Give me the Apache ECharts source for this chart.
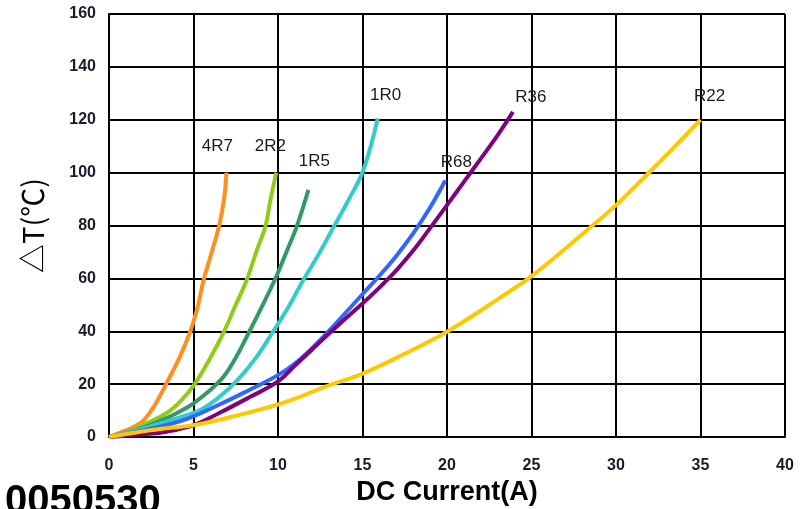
<!DOCTYPE html>
<html>
<head>
<meta charset="utf-8">
<script src="https://cdn.jsdelivr.net/npm/echarts@6/dist/echarts.min.js"></script>
<style>html,body{margin:0;padding:0;background:#fff}#c{width:807px;height:509px}</style>
</head>
<body>
<div id="c"></div>
<script>
const seriesNames = ['4R7', '2R2', '1R5', '1R0', 'R68', 'R36', 'R22'];
const x4R7 = [0, 0.6, 1.3, 2, 2.7, 3.5, 4.2, 4.8, 5.2, 5.6, 6.0, 6.5, 6.8, 6.95];
const y4R7 = [0, 1.5, 3.3, 6, 12, 21.5, 30.4, 39.8, 48, 59.4, 68.2, 79.5, 89.6, 100];
const x2R2 = [0, 1, 2, 3.4, 4.3, 5.1, 6, 6.8, 7.5, 8.15, 8.75, 9.25, 9.55, 9.9];
const y2R2 = [0, 1.5, 4.5, 9, 14, 20.3, 30, 39.8, 50, 59.4, 70.7, 79.5, 89.6, 100];
const x1R5 = [0, 1, 2, 3, 4, 5, 6.6, 7.5, 8.3, 9.1, 9.9, 10.5, 11.1, 11.8];
const y1R5 = [0, 1.5, 3.5, 6, 9, 12.7, 21.5, 30, 39.8, 50, 60.7, 70, 79.5, 93.5];
const x1R0 = [0, 1, 2.4, 4, 5.4, 6.5, 7.6, 8.7, 9.7, 10.6, 11.5, 12.4, 13.3, 14.2, 15.05, 15.9];
const y1R0 = [0, 1.5, 3.9, 7, 10.2, 15, 21.5, 30, 39.8, 49, 59.4, 69, 79.5, 90, 101, 120.5];
const xR68 = [0, 2, 4.4, 6.6, 8.3, 10, 11, 12, 13, 14, 15, 16, 17, 18, 19, 19.9];
const yR68 = [0, 2.5, 6.4, 12.5, 17.8, 23.4, 27.8, 33.5, 40, 47, 54, 61, 68.5, 77, 86.8, 97];
const xR36 = [0, 2, 3.4, 5, 6.5, 8.3, 10, 11, 12, 13, 14, 15, 16, 17, 18, 19, 20, 21, 22, 23, 23.9];
const yR36 = [0, 1, 2, 4.5, 9, 15, 21, 27, 33, 39, 44.8, 50.5, 56.5, 63, 70.5, 79, 87.7, 96.5, 105.3, 114.2, 123];
const xR22 = [0, 1.4, 3, 5, 7.5, 9.9, 11.3, 13, 15.05, 17.5, 20, 23.1, 25.1, 28.3, 30, 31.8, 33.5, 35];
const yR22 = [0, 1.5, 3, 4.5, 8, 12.1, 15.2, 19.5, 24.1, 31.5, 39.8, 52.5, 61.3, 78.3, 87.7, 99, 110, 120];
const xTicks = [0, 5, 10, 15, 20, 25, 30, 35, 40];
const yTicks = [0, 20, 40, 60, 80, 100, 120, 140, 160];

const xs = [x4R7, x2R2, x1R5, x1R0, xR68, xR36, xR22];
const ys = [y4R7, y2R2, y1R5, y1R0, yR68, yR36, yR22];
const colors = ['#FF8F1F', '#8FCC1A', '#339966', '#33CCCC', '#3366FF', '#800080', '#FFC800'];
const labelOffsets = [[-9, -26], [-6, -26], [6, -28], [8, -23], [11, -18], [18, -15], [9, -23]];

const series = seriesNames.map((name, i) => {
  const data = xs[i].map((x, j) => [x, ys[i][j]]);
  const last = data[data.length - 1];
  return {
    name, type: 'line', data, smooth: 0.4, showSymbol: false, symbol: 'none',
    lineStyle: { color: colors[i], width: 4 }, itemStyle: { color: colors[i] },
    z: 3,
    markPoint: {
      symbol: 'circle', symbolSize: 1, itemStyle: { color: 'rgba(0,0,0,0)' },
      data: [{ coord: last }],
      label: { show: true, position: 'inside', formatter: name, offset: labelOffsets[i],
        color: '#1a1a1a', fontSize: 17, fontFamily: 'Liberation Sans' }
    }
  };
});

const chart = echarts.init(document.getElementById('c'), null, { renderer: 'canvas' });
chart.setOption({
  animation: false,
  backgroundColor: '#fff',
  textStyle: { fontFamily: 'Liberation Sans' },
  title: {
    text: '0050530', left: 0, top: 477,
    textStyle: { fontSize: 40, fontWeight: 'bold', color: '#000', fontFamily: 'Liberation Sans' }
  },
  grid: { left: 109, right: 22, top: 14, bottom: 72, containLabel: false, outerBoundsMode: 'none' },
  xAxis: {
    type: 'value', min: 0, max: 40, interval: 5,
    name: 'DC Current(A)', nameLocation: 'middle', nameGap: 42,
    nameTextStyle: { fontSize: 27, fontWeight: 'bold', color: '#000' },
    axisLine: { show: true, lineStyle: { color: '#000', width: 2 } },
    axisTick: { show: false },
    axisLabel: { margin: 21, fontSize: 16, fontWeight: 'bold', color: '#1a1a2a',
      formatter: v => xTicks.includes(v) ? String(v) : '' },
    splitLine: { show: true, lineStyle: { color: '#000', width: 2 } }
  },
  yAxis: {
    type: 'value', min: 0, max: 160, interval: 20,
    name: '△T(℃)', nameLocation: 'middle', nameGap: 54, nameRotate: 90,
    nameTextStyle: { fontSize: 29, color: '#000', fontFamily: 'Noto Sans CJK SC', padding: [0, 0, 8, 0] },
    axisLine: { show: true, lineStyle: { color: '#000', width: 2 } },
    axisTick: { show: false },
    axisLabel: { margin: 13, fontSize: 16, fontWeight: 'bold', color: '#1a1a2a',
      formatter: v => yTicks.includes(v) ? String(v) : '' },
    splitLine: { show: true, lineStyle: { color: '#000', width: 2 } }
  },
  series
});
</script>
</body>
</html>
